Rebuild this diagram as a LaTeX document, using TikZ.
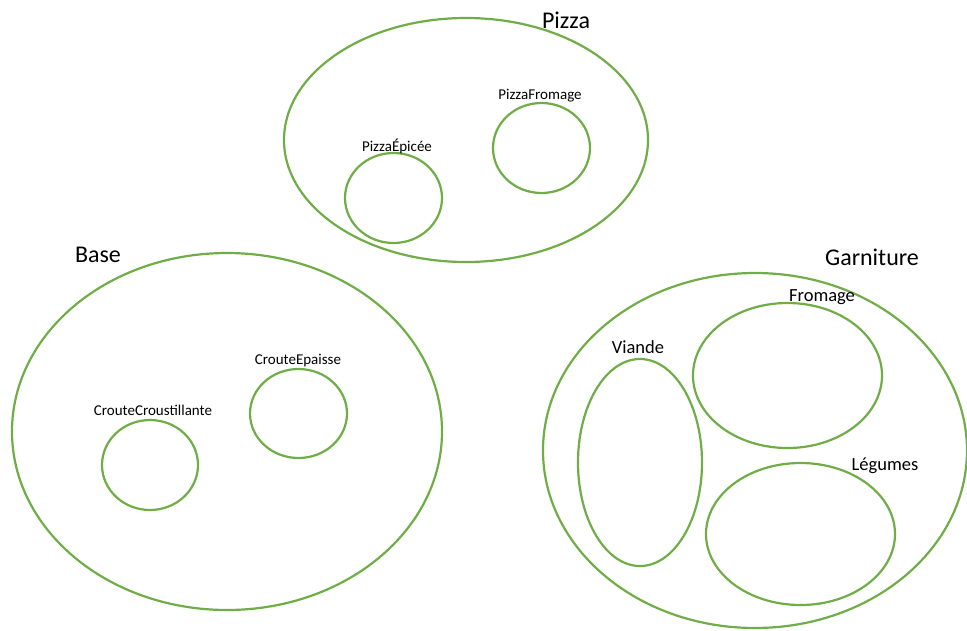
\documentclass[tikz,border=0pt]{standalone}
\usepackage{fontspec}
\setmainfont{Carlito}
\usetikzlibrary{shapes.geometric}
\definecolor{vgreen}{RGB}{112,173,71}
\tikzset{
  set/.style={ellipse, draw=vgreen, line width=2.2pt, inner sep=0pt, outer sep=0pt},
  biglabel/.style={font=\fontsize{24}{28}\selectfont, text=black, inner sep=0pt},
  midlabel/.style={font=\fontsize{18.5}{22}\selectfont, text=black, inner sep=0pt},
  smalllabel/.style={font=\fontsize{15}{17}\selectfont, text=black, inner sep=0pt}
}
\begin{document}
\begin{tikzpicture}[x=1pt,y=-1pt]
\useasboundingbox (0,0) rectangle (967,630);
% Pizza
\node[set, minimum width=364pt, minimum height=244pt] (pizza) at (466,140) {};
\node[biglabel] (pizzalbl) at (566,20) {Pizza};
\node[set, minimum width=97pt, minimum height=90pt] (epicee) at (393.5,198) {};
\node[smalllabel] (epiceelbl) at (397,146) {PizzaÉpicée};
\node[set, minimum width=97pt, minimum height=90pt] (pfromage) at (541.5,148) {};
\node[smalllabel] (pfromagelbl) at (540,96) {PizzaFromage};
% Base
\node[set, minimum width=430pt, minimum height=357pt] (base) at (227,431.5) {};
\node[biglabel] (baselbl) at (98,255) {Base};
\node[set, minimum width=96pt, minimum height=90pt] (crous) at (150,465) {};
\node[smalllabel] (crouslbl) at (153,410) {CrouteCroustillante};
\node[set, minimum width=97pt, minimum height=89pt] (epaisse) at (298.5,413.5) {};
\node[smalllabel] (epaisselbl) at (298,361) {CrouteEpaisse};
% Garniture
\node[set, minimum width=424pt, minimum height=355pt] (garn) at (755,450.5) {};
\node[biglabel] (garnlbl) at (872,257) {Garniture};
\node[set, minimum width=124pt, minimum height=207pt] (viande) at (640,462.5) {};
\node[midlabel] (viandelbl) at (638,347) {Viande};
\node[set, minimum width=189pt, minimum height=145pt] (fromage) at (787.5,375.5) {};
\node[midlabel] (fromagelbl) at (822,297) {Fromage};
\node[set, minimum width=189pt, minimum height=142pt] (legumes) at (800.5,534) {};
\node[midlabel] (legumeslbl) at (885,466) {Légumes};
\end{tikzpicture}
\end{document}
